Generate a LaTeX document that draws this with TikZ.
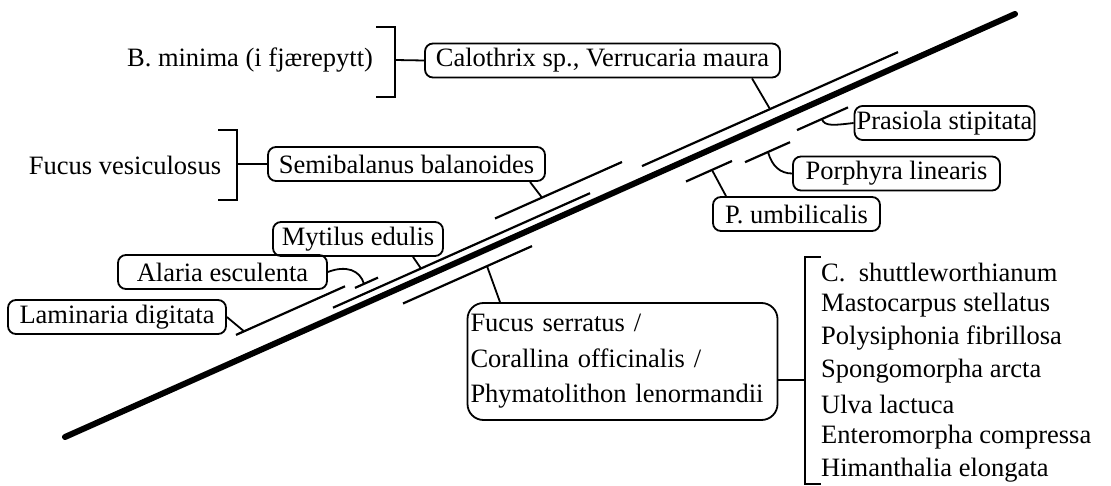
\documentclass[tikz,border=0pt]{standalone}
\usepackage{fontspec}
\setmainfont{Liberation Serif}
\newcommand{\mainsz}{\fontsize{26.5}{33}\selectfont}
\newcommand{\boxsz}{\fontsize{26.5}{35.5}\selectfont}
\begin{document}
\begin{tikzpicture}[x=1pt,y=-1pt,
  box/.style={draw, line width=1.8pt, rounded corners=8pt, inner xsep=2pt, inner ysep=0pt, minimum height=34pt, font=\mainsz},
  seg/.style={line width=2.2pt},
  con/.style={line width=1.8pt},
  lbl/.style={inner sep=0pt, font=\mainsz},
]
\useasboundingbox (0,0) rectangle (1111,486);

% main shore line
\coordinate (mA) at (65,437);
\coordinate (mB) at (1015,14);
\draw[line width=6pt, line cap=round] (mA) -- (mB);

% boxes
\node[box, minimum width=355pt] (cal) at (602.5,60.5) {Calothrix sp., Verrucaria maura};
\node[lbl] (bmin) at (250,60) {B. minima (i fjærepytt)};
\node[box, minimum width=277pt] (sem) at (406.5,164) {Semibalanus balanoides};
\node[lbl] (fves) at (125,165) {Fucus vesiculosus};
\node[box, minimum width=170pt] (myt) at (358,239) {Mytilus edulis};
\node[box, minimum width=209pt] (ala) at (222.5,272) {Alaria esculenta};
\node[box, minimum width=218pt] (lam) at (117,317) {Laminaria digitata};
\node[box, rounded corners=16pt, text width=304pt, align=left, inner xsep=3pt, minimum height=117pt, font=\boxsz] (fser) at (622.5,361.5) {Fucus serratus /\\Corallina officinalis /\\Phymatolithon lenormandii};
\node[box, minimum width=176pt] (pra) at (944.5,123) {Prasiola stipitata};
\node[box, minimum width=207pt] (por) at (896.5,173.5) {Porphyra linearis};
\node[box, minimum width=167pt] (pum) at (796.5,214) {P. umbilicalis};

% species list
\foreach \t [count=\i] in {C.\ \ shuttleworthianum, Mastocarpus stellatus, Polysiphonia fibrillosa, Spongomorpha arcta, Ulva lactuca, Enteromorpha compressa, Himanthalia elongata}
  \node[lbl, anchor=west] (sp\i) at (821,{239+33*\i}) {\t};

% brackets
\coordinate (b1a) at (376,27); \coordinate (b1b) at (395,27);
\coordinate (b1m) at (395,60);
\coordinate (b1c) at (395,97); \coordinate (b1d) at (376,97);
\draw[con] (b1a) -- (b1b) -- (b1c) -- (b1d);
\draw[con] (b1m) -- (cal.west);

\coordinate (b2a) at (218,130); \coordinate (b2b) at (237,130);
\coordinate (b2m) at (237,164);
\coordinate (b2c) at (237,200); \coordinate (b2d) at (218,200);
\draw[con] (b2a) -- (b2b) -- (b2c) -- (b2d);
\draw[con] (b2m) -- (sem.west);

\coordinate (b3a) at (821,257); \coordinate (b3b) at (805,257);
\coordinate (b3m) at (805,380);
\coordinate (b3c) at (805,484); \coordinate (b3d) at (821,484);
\draw[con] (b3a) -- (b3b) -- (b3c) -- (b3d);
\draw[con] (fser.east |- b3m) -- (b3m);

% zone segments above the line
\draw[seg] (236,334.9) coordinate (lamA) -- (345,286.3) coordinate (lamB);
\draw[seg] (355,287.9) coordinate (alaA) -- (378,277.6) coordinate (alaB);
\draw[seg] (333,307.7) coordinate (mytA) -- (590,193.2) coordinate (mytB);
\draw[seg] (495,218.5) coordinate (semA) -- (622,162) coordinate (semB);
\draw[seg] (642,166.1) coordinate (calA) -- (898,52.1) coordinate (calB);
% zone segments below the line
\draw[seg] (403,303.5) coordinate (fsA) -- (532,246.1) coordinate (fsB);
\draw[seg] (686,181.5) coordinate (puA) -- (732,161) coordinate (puB);
\draw[seg] (745,162.2) coordinate (poA) -- (790,142.2) coordinate (poB);
\draw[seg] (797,130.1) coordinate (prA) -- (848,107.4) coordinate (prB);

% connection points on the segments
\coordinate (calP) at (770,109.1);
\coordinate (semP) at (542,197.6);
\coordinate (mytP) at (421,268.5);
\coordinate (alaP) at (364,283.9);
\coordinate (lamP) at (244,331.3);
\coordinate (fsP)  at (487,266.1);
\coordinate (puP)  at (712,170);
\coordinate (poP)  at (768,152);
\coordinate (prP)  at (822,119);

% connectors
\draw[con] (cal.south -| 752,0) -- (calP);
\draw[con] (sem.south -| 530,0) -- (semP);
\draw[con] (myt.south -| 413,0) -- (mytP);
\draw[con] (lam.east) -- (lamP);
\draw[con] (fser.north -| 500,0) -- (fsP);
\draw[con] (pum.north -| 726,0) -- (puP);
\draw[con] (ala.east) .. controls (346,265) and (360,270) .. (alaP);
\draw[con] (poP) .. controls (772,166) and (780,173.5) .. (por.west);
\draw[con] (prP) .. controls (824,127) and (836,125) .. (pra.west);
\end{tikzpicture}
\end{document}
